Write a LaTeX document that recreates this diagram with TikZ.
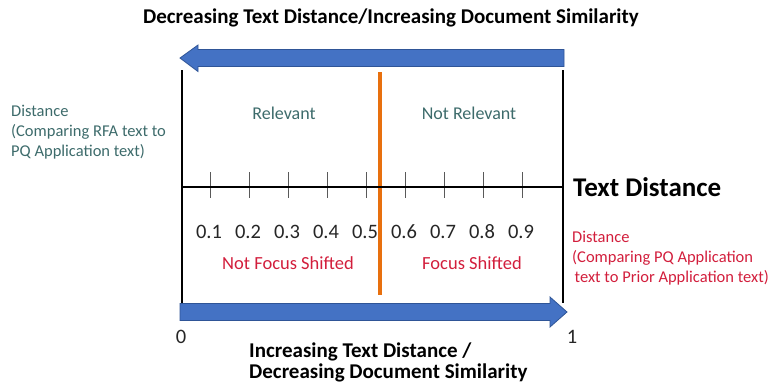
\documentclass[tikz,border=0pt]{standalone}
\usepackage{fontspec}
\setmainfont{Carlito}
\definecolor{arrowblue}{HTML}{4472C4}
\definecolor{arrowedge}{HTML}{2F5597}
\definecolor{tealtxt}{HTML}{3D6B6B}
\definecolor{redtxt}{HTML}{D21E3C}
\definecolor{orangeln}{HTML}{E8700E}
\tikzset{
  blockarrow/.style={fill=arrowblue, draw=arrowedge, line width=0.8pt, line join=miter},
  frameline/.style={draw=black, line width=2.4pt},
  tickline/.style={draw=black!65, line width=0.9pt},
  ticklabel/.style={font=\fontsize{20.5}{22}\selectfont, text=black!85, inner sep=0pt},
  tealtext/.style={font=\fontsize{16.5}{20}\selectfont, text=tealtxt, inner sep=0pt},
  redtext/.style={font=\fontsize{16.5}{20}\selectfont, text=redtxt, inner sep=0pt},
  boldtitle/.style={font=\bfseries\fontsize{21}{22}\selectfont, inner sep=0pt},
}
\begin{document}
\begin{tikzpicture}[x=1pt,y=-1pt]
\useasboundingbox (0,0) rectangle (771,384);
% coordinates
\coordinate (LT) at (182,70);
\coordinate (LB) at (182,303);
\coordinate (RT) at (563,70);
\coordinate (RB) at (563,303);
\coordinate (AL) at (182,187);
\coordinate (AR) at (563,187);
\coordinate (OT) at (380,72);
\coordinate (OB) at (380,295);
% orange split line
\draw[draw=orangeln, line width=3.6pt] (OT) -- (OB);
% frame verticals
\draw[frameline] (LT) -- (LB);
\draw[frameline] (RT) -- (RB);
% ticks
\foreach \k in {0,...,8} {
  \pgfmathsetmacro{\xx}{210+39*\k}
  \draw[tickline] (\xx,172) -- (\xx,198);
}
% axis
\draw[frameline] (AL) -- (AR);
% tick labels
\foreach \k/\lab in {0/0.1,1/0.2,2/0.3,3/0.4,4/0.5,5/0.6,6/0.7,7/0.8,8/0.9} {
  \pgfmathsetmacro{\xx}{209+39*\k}
  \node[ticklabel] (t\k) at (\xx,232) {\lab};
}
% top arrow (pointing left)
\draw[blockarrow] (564,49.5) -- (198,49.5) -- (198,45) -- (180,58) -- (198,71.5) -- (198,66.5) -- (564,66.5) -- cycle;
% bottom arrow (pointing right)
\draw[blockarrow] (180,303.5) -- (550,303.5) -- (550,297) -- (567,312) -- (550,327) -- (550,320.5) -- (180,320.5) -- cycle;
% texts
\node[boldtitle] (title) at (391,18) {Decreasing Text Distance/Increasing Document Similarity};
\node[tealtext, anchor=west, align=left] (ldist) at (11,132) {Distance\\(Comparing RFA text to\\PQ Application text)};
\node[tealtext, font=\fontsize{18}{20}\selectfont] (rel) at (284,113) {Relevant};
\node[tealtext, font=\fontsize{18}{20}\selectfont] (nrel) at (469,113) {Not Relevant};
\node[font=\bfseries\fontsize{27}{30}\selectfont, anchor=west, inner sep=0pt] (td) at (573,187) {Text Distance};
\node[redtext, font=\fontsize{18.5}{20}\selectfont] (nfs) at (288,263) {Not Focus Shifted};
\node[redtext, font=\fontsize{18.5}{20}\selectfont] (fs) at (472,263) {Focus Shifted};
\node[redtext, anchor=west, align=left] (rdist) at (572,258) {Distance\\(Comparing PQ Application\\\hspace{2.5pt}text to Prior Application text)};
\node[ticklabel] (zero) at (181,337) {0};
\node[ticklabel] (one) at (572,337) {1};
\node[boldtitle, anchor=west, align=left, font=\bfseries\fontsize{21}{21}\selectfont] (btxt) at (249,362.5) {Increasing Text Distance /\\Decreasing Document Similarity};
\end{tikzpicture}
\end{document}
